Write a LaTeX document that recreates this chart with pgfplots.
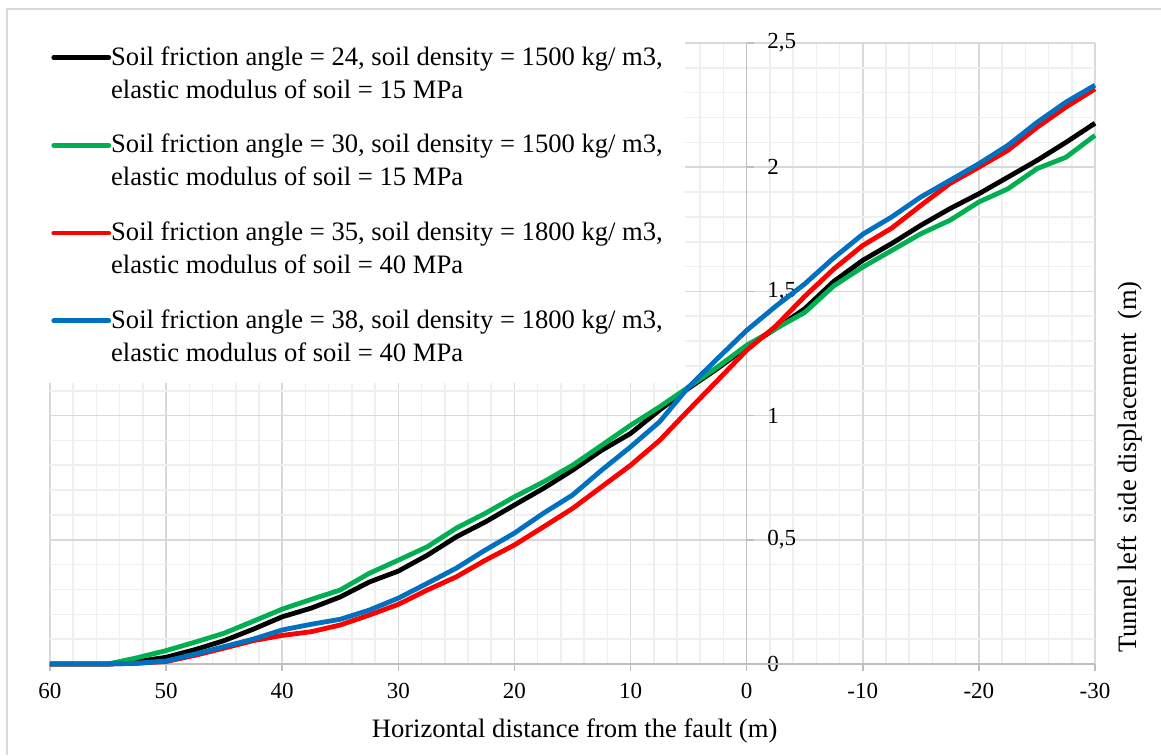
\documentclass[border=0pt]{standalone}
\usepackage{fontspec}
\setmainfont{Liberation Serif}
\usepackage{pgfplots}
\pgfplotsset{compat=1.18}
\definecolor{gmaj}{HTML}{D9D9D9}
\definecolor{gmin}{HTML}{EFEFEF}
\definecolor{axl}{HTML}{BFBFBF}
\definecolor{sgreen}{HTML}{00B050}
\definecolor{sred}{HTML}{FF0000}
\definecolor{sblue}{HTML}{0070C0}
\newcommand{\firstln}{\rule{0pt}{20.9pt}}
\newcommand{\secondln}{\rule{0pt}{10pt}}
\begin{document}
\begin{tikzpicture}
\path[use as bounding box] (0,0) rectangle (580.5pt,377.5pt);
\begin{axis}[
  at={(25pt,45.5pt)}, anchor=south west,
  scale only axis, width=522.5pt, height=310.5pt,
  xmin=-30, xmax=60, ymin=0, ymax=2.5,
  x dir=reverse,
  clip=false,
  axis line style={draw=none},
  xtick pos=bottom, ytick pos=left,
  xtick={-30,-20,...,60},
  xticklabels={-30,-20,-10,0,10,20,30,40,50,60},
  ytick={0,0.5,1,1.5,2,2.5},
  yticklabels={0,{0,5},1,{1,5},2,{2,5}},
  minor x tick num=4, minor y tick num=4,
  grid=both,
  major grid style={draw=gmaj, line width=0.8pt},
  minor grid style={draw=gmin, line width=0.8pt},
  major tick length=3.5pt, minor tick length=0pt,
  x tick style={draw=axl, line width=0.8pt},
  y tick style={draw=axl, line width=0.8pt, xshift=348.5pt},
  xtick align=outside, ytick align=inside,
  extra x ticks={0}, extra x tick labels={},
  extra x tick style={grid=major, major grid style={draw=axl, line width=0.8pt}},
  extra y ticks={0}, extra y tick labels={},
  extra y tick style={grid=major, major grid style={draw=axl, line width=0.8pt}},
  tick label style={font=\fontsize{11.5}{13}\selectfont, text=black},
  xticklabel style={anchor=north, inner sep=0pt, yshift=-6pt},
  yticklabel style={anchor=west, inner sep=0pt, xshift=358.5pt},
  xlabel={Horizontal distance from the fault (m)},
  ylabel={Tunnel left\ \ side displacement\ \ (m)},
  every axis x label/.style={at={(axis description cs:0.502,-0.119)}, anchor=base, font=\fontsize{13.3}{16}\selectfont},
  every axis y label/.style={at={(axis description cs:1.0335,0.317)}, anchor=center, rotate=90, font=\fontsize{13.3}{16}\selectfont},
  legend style={
    at={(axis description cs:-0.0201,0.4525)}, anchor=south west,
    draw=none, fill=white,
    inner xsep=11pt, inner ysep=7pt,
    font=\fontsize{13.3}{16}\selectfont,
    row sep=3pt, column sep=0pt,
    nodes={inner sep=0pt, text depth=3.5pt, anchor=base west},
  },
  legend image code/.code={\draw[#1, line cap=round] (0pt,3.85pt) -- (27.5pt,3.85pt);},
  every axis plot/.append style={line width=2.4pt, line join=round},
]
\addplot[black] coordinates {
(60,0) (57.5,0) (55,0) (52.5,0.01) (50,0.027) (47.5,0.058) (45,0.094) (42.5,0.14) (40,0.19) (37.5,0.225) (35,0.27) (32.5,0.33) (30,0.374) (27.5,0.438) (25,0.512) (22.5,0.572) (20,0.64) (17.5,0.707) (15,0.78) (12.5,0.86) (10,0.928) (7.5,1.022) (5,1.11) (2.5,1.19) (0,1.276) (-2.5,1.35) (-5,1.43) (-7.5,1.54) (-10,1.625) (-12.5,1.693) (-15,1.766) (-17.5,1.833) (-20,1.893) (-22.5,1.96) (-25,2.027) (-27.5,2.1) (-30,2.177)};
\addlegendentry{\firstln Soil friction angle = 24, soil density = 1500 kg/ m3,}
\addlegendimage{empty legend}
\addlegendentry{\secondln elastic modulus of soil = 15 MPa}
\addplot[sgreen] coordinates {
(60,0) (57.5,0) (55,0) (52.5,0.025) (50,0.054) (47.5,0.088) (45,0.124) (42.5,0.172) (40,0.221) (37.5,0.26) (35,0.298) (32.5,0.365) (30,0.418) (27.5,0.472) (25,0.547) (22.5,0.607) (20,0.673) (17.5,0.733) (15,0.80) (12.5,0.88) (10,0.961) (7.5,1.035) (5,1.115) (2.5,1.196) (0,1.283) (-2.5,1.35) (-5,1.415) (-7.5,1.522) (-10,1.598) (-12.5,1.665) (-15,1.732) (-17.5,1.786) (-20,1.86) (-22.5,1.913) (-25,1.994) (-27.5,2.04) (-30,2.128)};
\addlegendentry{\firstln Soil friction angle = 30, soil density = 1500 kg/ m3,}
\addlegendimage{empty legend}
\addlegendentry{\secondln elastic modulus of soil = 15 MPa}
\addplot[sred] coordinates {
(60,0) (57.5,0) (55,0) (52.5,0.003) (50,0.01) (47.5,0.035) (45,0.064) (42.5,0.094) (40,0.115) (37.5,0.13) (35,0.157) (32.5,0.197) (30,0.24) (27.5,0.298) (25,0.351) (22.5,0.418) (20,0.479) (17.5,0.552) (15,0.626) (12.5,0.713) (10,0.80) (7.5,0.90) (5,1.022) (2.5,1.142) (0,1.263) (-2.5,1.36) (-5,1.48) (-7.5,1.59) (-10,1.685) (-12.5,1.755) (-15,1.846) (-17.5,1.934) (-20,2.0) (-22.5,2.068) (-25,2.16) (-27.5,2.242) (-30,2.315)};
\addlegendentry{\firstln Soil friction angle = 35, soil density = 1800 kg/ m3,}
\addlegendimage{empty legend}
\addlegendentry{\secondln elastic modulus of soil = 40 MPa}
\addplot[sblue] coordinates {
(60,0) (57.5,0) (55,0) (52.5,0.003) (50,0.012) (47.5,0.04) (45,0.07) (42.5,0.1) (40,0.137) (37.5,0.16) (35,0.18) (32.5,0.217) (30,0.265) (27.5,0.325) (25,0.386) (22.5,0.459) (20,0.527) (17.5,0.607) (15,0.68) (12.5,0.78) (10,0.874) (7.5,0.975) (5,1.115) (2.5,1.23) (0,1.343) (-2.5,1.44) (-5,1.53) (-7.5,1.635) (-10,1.73) (-12.5,1.80) (-15,1.88) (-17.5,1.947) (-20,2.014) (-22.5,2.088) (-25,2.18) (-27.5,2.262) (-30,2.33)};
\addlegendentry{\firstln Soil friction angle = 38, soil density = 1800 kg/ m3,}
\addlegendimage{empty legend}
\addlegendentry{\secondln elastic modulus of soil = 40 MPa}
\end{axis}
\draw[gmaj, line width=0.8pt] (3.5pt,0) -- (3.5pt,373pt) -- (580.5pt,373pt);
\end{tikzpicture}
\end{document}
